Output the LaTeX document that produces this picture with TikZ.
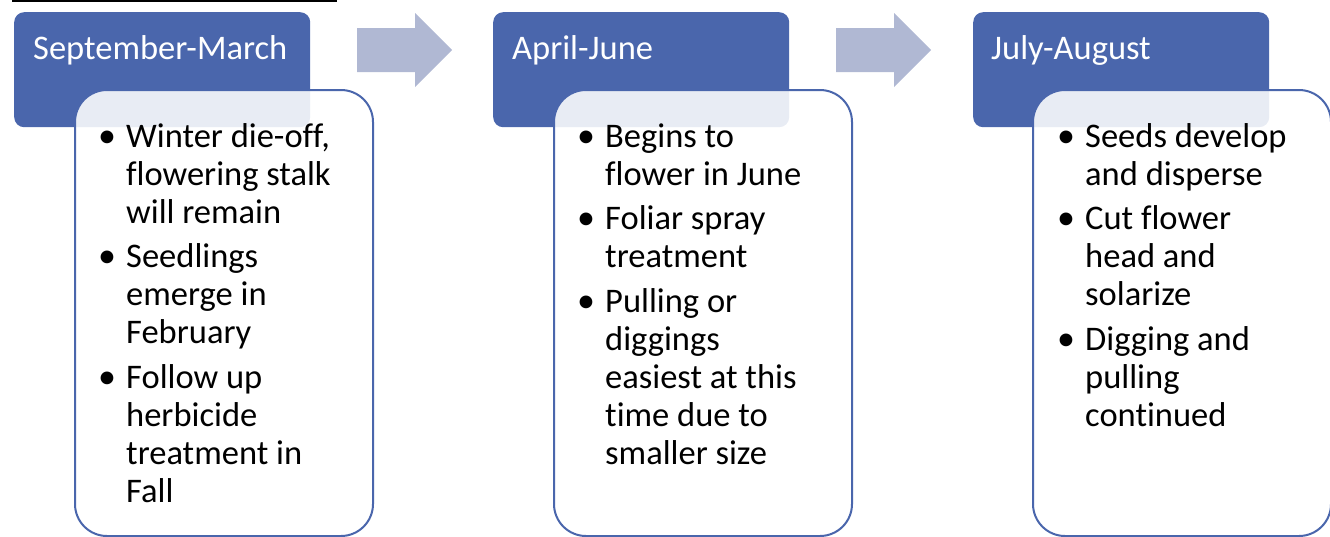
\documentclass[tikz,border=0pt]{standalone}
\usepackage{fontspec}
\setmainfont{Carlito}[Ligatures=NoCommon]
\definecolor{hdr}{HTML}{4A66AC}
\definecolor{arr}{HTML}{B0B8D3}
\begin{document}
\begin{tikzpicture}[x=1pt,y=-1pt,
  hdrbox/.style={fill=hdr, rounded corners=10pt, anchor=north west, minimum width=296pt, minimum height=115pt, inner sep=0pt},
  bodybox/.style={draw=hdr, line width=2pt, fill=white, fill opacity=0.88, draw opacity=1, rounded corners=32pt, anchor=north west, minimum width=298pt, minimum height=446pt, inner sep=0pt},
  arrowshape/.style={fill=arr},
  txt/.style={anchor=base west, inner sep=0pt, font=\fontsize{34.5}{38}\selectfont},
  hdrtxt/.style={txt, text=white},
  bul/.style={anchor=base, inner sep=0pt, font=\fontsize{36}{38}\selectfont}
]
\useasboundingbox (0,0) rectangle (1330,536);
\draw[line width=2pt] (12,1) -- (337,1);

% headers and body boxes
\node[hdrbox] (h1) at (14,12) {};
\node[hdrbox] (h2) at (493,12) {};
\node[hdrbox] (h3) at (973,12) {};
\node[bodybox] (b1) at (74,89) {};
\node[bodybox] (b2) at (553,89) {};
\node[bodybox] (b3) at (1032,89) {};

% arrows
\fill[arrowshape] (357,28) -- (415,28) -- (415,13) -- (452,50) -- (415,87) -- (415,72) -- (357,72) -- cycle;
\fill[arrowshape] (836,28) -- (894,28) -- (894,13) -- (931,50) -- (894,87) -- (894,72) -- (836,72) -- cycle;

% header texts
\node[hdrtxt] (t1) at (33,59) {September-March};
\node[hdrtxt] (t2) at (512,59) {April-June};
\node[hdrtxt] (t3) at (991,59) {July-August};

% column 1
\foreach \y/\t [count=\i] in {147/{Winter die-off,}, 185/{flowering stalk}, 223/{will remain}, 267.5/{Seedlings}, 305.5/{emerge in}, 343.5/{February}, 388/{Follow up}, 426/{herbicide}, 464/{treatment in}, 502/{Fall}}
  \node[txt] (a\i) at (126,\y) {\t};
\foreach \y [count=\i] in {147,267.5,388}
  \node[bul] (ab\i) at (107,\y) {•};

% column 2
\foreach \y/\t [count=\i] in {147/{Begins to}, 185/{flower in June}, 229.5/{Foliar spray}, 267.5/{treatment}, 312/{Pulling or}, 350/{diggings}, 388/{easiest at this}, 426/{time due to}, 464/{smaller size}}
  \node[txt] (c\i) at (605,\y) {\t};
\foreach \y [count=\i] in {147,229.5,312}
  \node[bul] (cb\i) at (586,\y) {•};

% column 3
\foreach \y/\t [count=\i] in {147/{Seeds develop}, 185/{and disperse}, 229.5/{Cut flower}, 267.5/{head and}, 305.5/{solarize}, 350/{Digging and}, 388/{pulling}, 426/{continued}}
  \node[txt] (d\i) at (1085,\y) {\t};
\foreach \y [count=\i] in {147,229.5,350}
  \node[bul] (db\i) at (1066,\y) {•};
\end{tikzpicture}
\end{document}
